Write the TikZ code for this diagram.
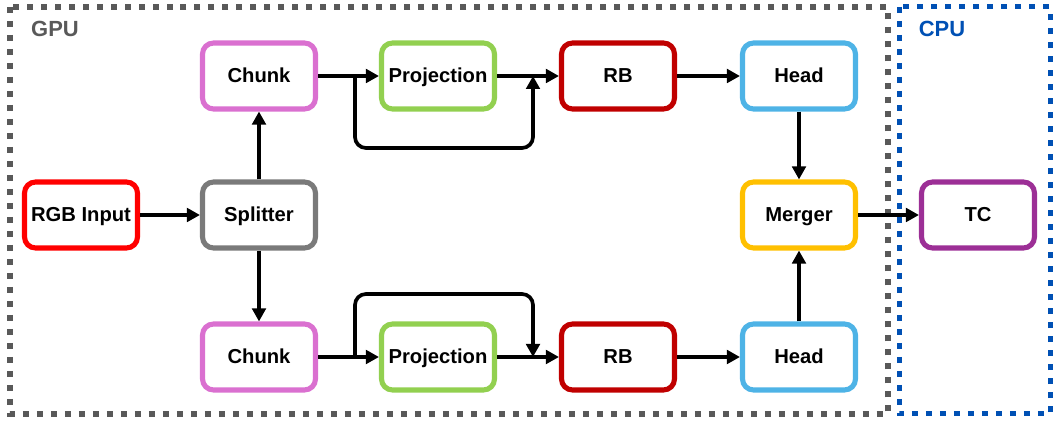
\documentclass[tikz,border=0pt]{standalone}
\usepackage{fontspec}
\setmainfont{Liberation Sans}
\usetikzlibrary{arrows.meta}
\usepackage{xcolor}
\definecolor{rgbred}{HTML}{FF0000}
\definecolor{splitgray}{HTML}{7A7A7A}
\definecolor{chunkpink}{HTML}{DA70D0}
\definecolor{projgreen}{HTML}{92D050}
\definecolor{rbred}{HTML}{C00000}
\definecolor{headblue}{HTML}{4EB3E6}
\definecolor{mergeamber}{HTML}{FFC000}
\definecolor{tcpurple}{HTML}{9C2F96}
\definecolor{gpugray}{HTML}{595959}
\definecolor{cpublue}{HTML}{0050B4}
\tikzset{
  blk/.style={draw=#1, line width=2.9pt, rounded corners=0.22cm, fill=white,
    minimum width=2.26cm, minimum height=1.32cm, inner sep=0pt,
    text height=1.65ex, text depth=0.25ex,
    font=\bfseries\fontsize{11.5}{13}\selectfont},
  arr/.style={-{Triangle[length=0.26cm,width=0.27cm]}, line width=2.1pt},
  area/.style={draw=#1, line width=0.13cm, dash pattern=on 0.12cm off 0.16cm},
  arealabel/.style={text=#1, font=\bfseries\fontsize{12.5}{14}\selectfont},
}
\begin{document}
\begin{tikzpicture}[x=0.02cm,y=-0.02cm]
\useasboundingbox (0,0) rectangle (1055,421);
% GPU and CPU areas
\draw[area=gpugray] (10,7) rectangle (888,414);
\draw[area=cpublue, line width=0.1cm] (899,7) rectangle (1050,414);
\node[arealabel=gpugray] (gpu) at (55,29) {GPU};
\node[arealabel=cpublue] (cpu) at (942,29) {CPU};
% blocks
\node[blk=rgbred] (rgb) at (81,215) {RGB Input};
\node[blk=splitgray] (split) at (259,215) {Splitter};
\node[blk=chunkpink] (chunk1) at (259,76) {Chunk};
\node[blk=chunkpink] (chunk2) at (259,357) {Chunk};
\node[blk=projgreen] (proj1) at (438,76) {Projection};
\node[blk=projgreen] (proj2) at (438,357) {Projection};
\node[blk=rbred] (rb1) at (618,76) {RB};
\node[blk=rbred] (rb2) at (618,357) {RB};
\node[blk=headblue] (head1) at (799,76) {Head};
\node[blk=headblue] (head2) at (799,357) {Head};
\node[blk=mergeamber] (merger) at (799,215) {Merger};
\node[blk=tcpurple] (tc) at (978,215) {TC};
% skip points
\coordinate (s1) at (355,76);
\coordinate (t1) at (533,76);
\coordinate (s2) at (355,357);
\coordinate (t2) at (533,357);
% connectors
\draw[arr] (rgb) -- (split);
\draw[arr] (split) -- (chunk1);
\draw[arr] (split) -- (chunk2);
\draw[arr] (chunk1) -- (proj1);
\draw[arr] (chunk2) -- (proj2);
\draw[arr] (proj1) -- (rb1);
\draw[arr] (proj2) -- (rb2);
\draw[arr] (rb1) -- (head1);
\draw[arr] (rb2) -- (head2);
\draw[arr] (head1) -- (merger);
\draw[arr] (head2) -- (merger);
\draw[arr] (merger) -- (tc);
\draw[arr, rounded corners=0.22cm] (s1) -- ++(0,72) -| (t1);
\draw[arr, rounded corners=0.22cm] (s2) -- ++(0,-63) -| (t2);
\end{tikzpicture}
\end{document}
